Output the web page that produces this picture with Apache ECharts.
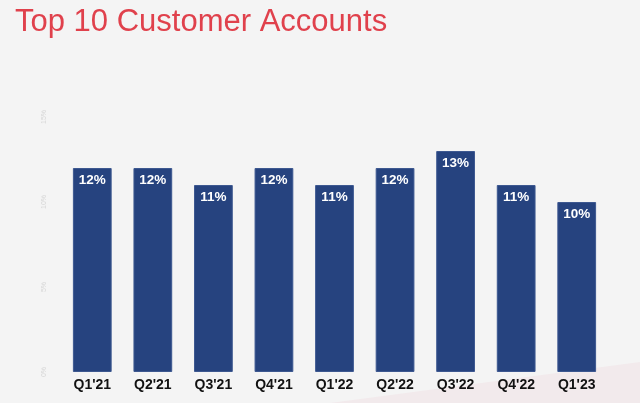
<!DOCTYPE html>
<html lang="en">
<head>
	<meta charset="UTF-8">
	<title>Top 10 Customer Accounts</title>
	<script src="https://cdn.jsdelivr.net/npm/echarts@6/dist/echarts.min.js"></script>
	<style>
		html, body { margin: 0; padding: 0; background: #f4f4f4; }
		#chart { width: 640px; height: 403px; }
	</style>
</head>
<body>
	<div id="chart"></div>
	<script>
		let quarters = ["Q1'21", "Q2'21", "Q3'21", "Q4'21", "Q1'22", "Q2'22", "Q3'22", "Q4'22", "Q1'23"];
		let shares = [12, 12, 11, 12, 11, 12, 13, 11, 10];
		let yTicks = [0, 5, 10, 15];

		let chart = echarts.init(document.getElementById('chart'));
		chart.setOption({
			backgroundColor: '#f4f4f4',
			title: {
				text: 'Top 10 Customer Accounts',
				left: 10,
				top: 2,
				textStyle: {
					color: '#e0414c',
					fontSize: 31,
					fontWeight: 'normal',
					fontFamily: 'Liberation Sans'
				}
			},
			graphic: [{
				type: 'polygon',
				z: -1,
				shape: { points: [[330, 403], [640, 362], [640, 403]] },
				style: { fill: '#f2eaec' }
			}],
			grid: { left: 62, right: 33, top: 117, bottom: 31 },
			xAxis: {
				type: 'category',
				data: quarters,
				axisLine: { show: false },
				axisTick: { show: false },
				axisLabel: {
					color: '#111',
					fontWeight: 'bold',
					fontSize: 14,
					fontFamily: 'Liberation Sans',
					margin: 6
				}
			},
			yAxis: {
				type: 'value',
				min: yTicks[0],
				max: yTicks[yTicks.length - 1],
				interval: 5,
				splitLine: { show: false },
				axisLabel: {
					color: '#d6d6d6',
					fontSize: 7,
					rotate: 90,
					margin: 14,
					formatter: '{value}%'
				}
			},
			series: [{
				type: 'bar',
				data: shares,
				barCategoryGap: '36%',
				itemStyle: { color: '#26437f', borderColor: '#3d5890', borderWidth: 1 },
				label: {
					show: true,
					position: 'insideTop',
					distance: 5,
					color: '#fff',
					fontWeight: 'bold',
					fontSize: 13.5,
					fontFamily: 'Liberation Sans',
					formatter: '{c}%'
				}
			}]
		});
	</script>
</body>
</html>
